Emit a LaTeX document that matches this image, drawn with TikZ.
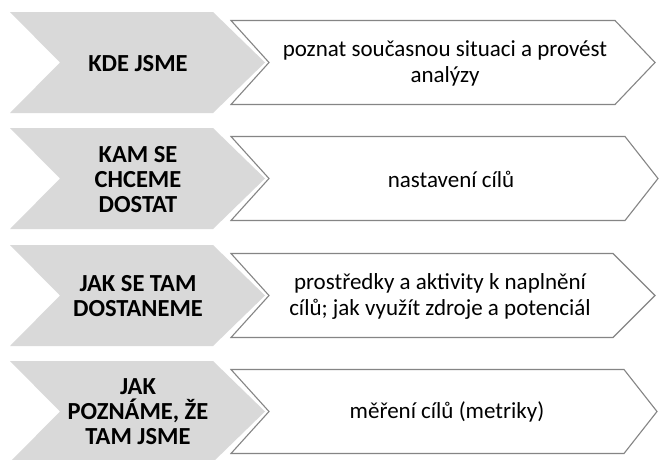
\documentclass[tikz,border=0pt]{standalone}
\usepackage{fontspec}
\setmainfont{Carlito}
\begin{document}
\begin{tikzpicture}[x=1pt,y=-1pt,
  greyarrow/.style={fill=chevgrey,draw=none},
  whitearrow/.style={fill=white,draw=edgegrey,line width=1.1pt,line join=miter},
  lefttext/.style={font=\fontsize{24.5}{25}\selectfont\bfseries,align=center,text=black,inner sep=0pt},
  righttext/.style={font=\fontsize{23}{26}\selectfont,align=center,text=black,inner sep=0pt}]
\definecolor{chevgrey}{HTML}{D9D9D9}
\definecolor{edgegrey}{HTML}{858585}
\useasboundingbox[fill=white] (0,0) rectangle (661,459);
% row geometry: top, right corner, tip
\foreach \t/\c/\p [count=\i] in {12/615/655, 128/625/658, 245/613/655, 361/624/657}{
  \pgfmathsetmacro{\m}{\t+50.5}
  \pgfmathsetmacro{\b}{\t+101}
  \pgfmathsetmacro{\wt}{\t+8.5}
  \pgfmathsetmacro{\wb}{\t+92.5}
  \fill[greyarrow] (10,\t) -- (213,\t) -- (265,\m) -- (213,\b) -- (10,\b) -- (60,\m) -- cycle;
  \draw[whitearrow] (231,\wt) -- (\c,\wt) -- (\p,\m) -- (\c,\wb) -- (231,\wb) -- (269,\m) -- cycle;
}
\node[lefttext] (l1) at (138,63.5) {KDE JSME};
\node[lefttext] (l2) at (138,179.5) {KAM SE\\CHCEME\\DOSTAT};
\node[lefttext] (l3) at (138,296) {JAK SE TAM\\DOSTANEME};
\node[lefttext] (l4) at (138,412) {JAK\\POZNÁME, ŽE\\TAM JSME};
\node[righttext] (r1) at (445,63.5) {poznat současnou situaci a provést\\analýzy};
\node[righttext] (r2) at (451,179.5) {nastavení cílů};
\node[righttext] (r3) at (440,296) {prostředky a aktivity k naplnění\\cílů; jak využít zdroje a potenciál};
\node[righttext] (r4) at (447,412) {měření cílů (metriky)};
\end{tikzpicture}
\end{document}
